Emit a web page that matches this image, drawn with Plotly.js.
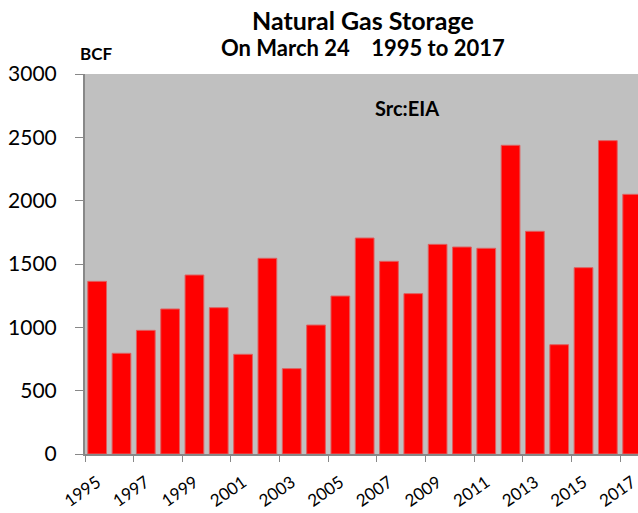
<!DOCTYPE html>
<html>
<head>
<meta charset="utf-8">
<script src="https://cdn.plot.ly/plotly-3.0.1.min.js"></script>
<style>html,body{margin:0;padding:0;background:#fff;}#chart{width:638px;height:513px;}</style>
</head>
<body>
<div id="chart"></div>
<script>
const years = ["1995","1996","1997","1998","1999","2000","2001","2002","2003","2004","2005","2006","2007","2008","2009","2010","2011","2012","2013","2014","2015","2016","2017"];
const storageBCF = [1363,795,976,1145,1413,1155,787,1545,674,1018,1247,1705,1521,1266,1655,1634,1624,2437,1758,863,1471,2474,2050];
const yTicks = [0,500,1000,1500,2000,2500,3000];
const titleLine1 = "Natural Gas Storage";
const titleLine2 = "On March 24&nbsp;&nbsp;&nbsp;&nbsp;1995 to 2017";

const FONT = "Lato, 'Open Sans', sans-serif";

const trace = {
  type: 'bar',
  x: years,
  y: storageBCF,
  marker: {color: '#FF0000', line: {color: '#E06060', width: 1}},
  hoverinfo: 'x+y'
};

const labelYears = years.filter((y, i) => i % 2 === 0);

const layout = {
  width: 638, height: 513,
  margin: {l: 85, r: 0, t: 74, b: 59, pad: 0},
  paper_bgcolor: '#FFFFFF',
  plot_bgcolor: '#C0C0C0',
  bargap: 0.23,
  showlegend: false,
  font: {family: FONT, color: '#000'},
  xaxis: {
    type: 'category',
    range: [-0.5, 22.24],
    tickmode: 'array',
    tickvals: labelYears,
    ticktext: labelYears,
    tickson: 'boundaries',
    ticks: 'outside', ticklen: 6, tickcolor: '#888888', tickwidth: 1,
    showline: true, linecolor: '#888888', linewidth: 2,
    showgrid: false, zeroline: false,
    tickangle: -35,
    ticklabelstandoff: 10,
    tickfont: {family: FONT, size: 17, color: '#000'}
  },
  yaxis: {
    range: [0, 3000],
    tickvals: yTicks,
    ticks: 'outside', ticklen: 8, tickcolor: '#888888', tickwidth: 1,
    showline: true, linecolor: '#888888', linewidth: 2,
    showgrid: false, zeroline: false,
    ticklabelstandoff: 14,
    tickfont: {family: FONT, size: 21, color: '#000'}
  },
  annotations: [
    {text: '<b>' + titleLine1 + '</b>', xref: 'paper', yref: 'paper', x: 0.503, y: 1.141, xanchor: 'center', yanchor: 'middle', showarrow: false, font: {family: FONT, size: 25, color: '#000'}},
    {text: '<b>' + titleLine2 + '</b>', xref: 'paper', yref: 'paper', x: 0.502, y: 1.070, xanchor: 'center', yanchor: 'middle', showarrow: false, font: {family: FONT, size: 22, color: '#000'}},
    {text: '<b>BCF</b>', xref: 'paper', yref: 'paper', x: -0.013, y: 1.053, xanchor: 'left', yanchor: 'middle', showarrow: false, font: {family: FONT, size: 17, color: '#000'}},
    {text: '<b>Src:EIA</b>', xref: 'paper', yref: 'paper', x: 0.582, y: 0.911, xanchor: 'center', yanchor: 'middle', showarrow: false, font: {family: FONT, size: 20, color: '#000'}}
  ]
};

Plotly.newPlot('chart', [trace], layout, {displayModeBar: false, staticPlot: true});
</script>
</body>
</html>
